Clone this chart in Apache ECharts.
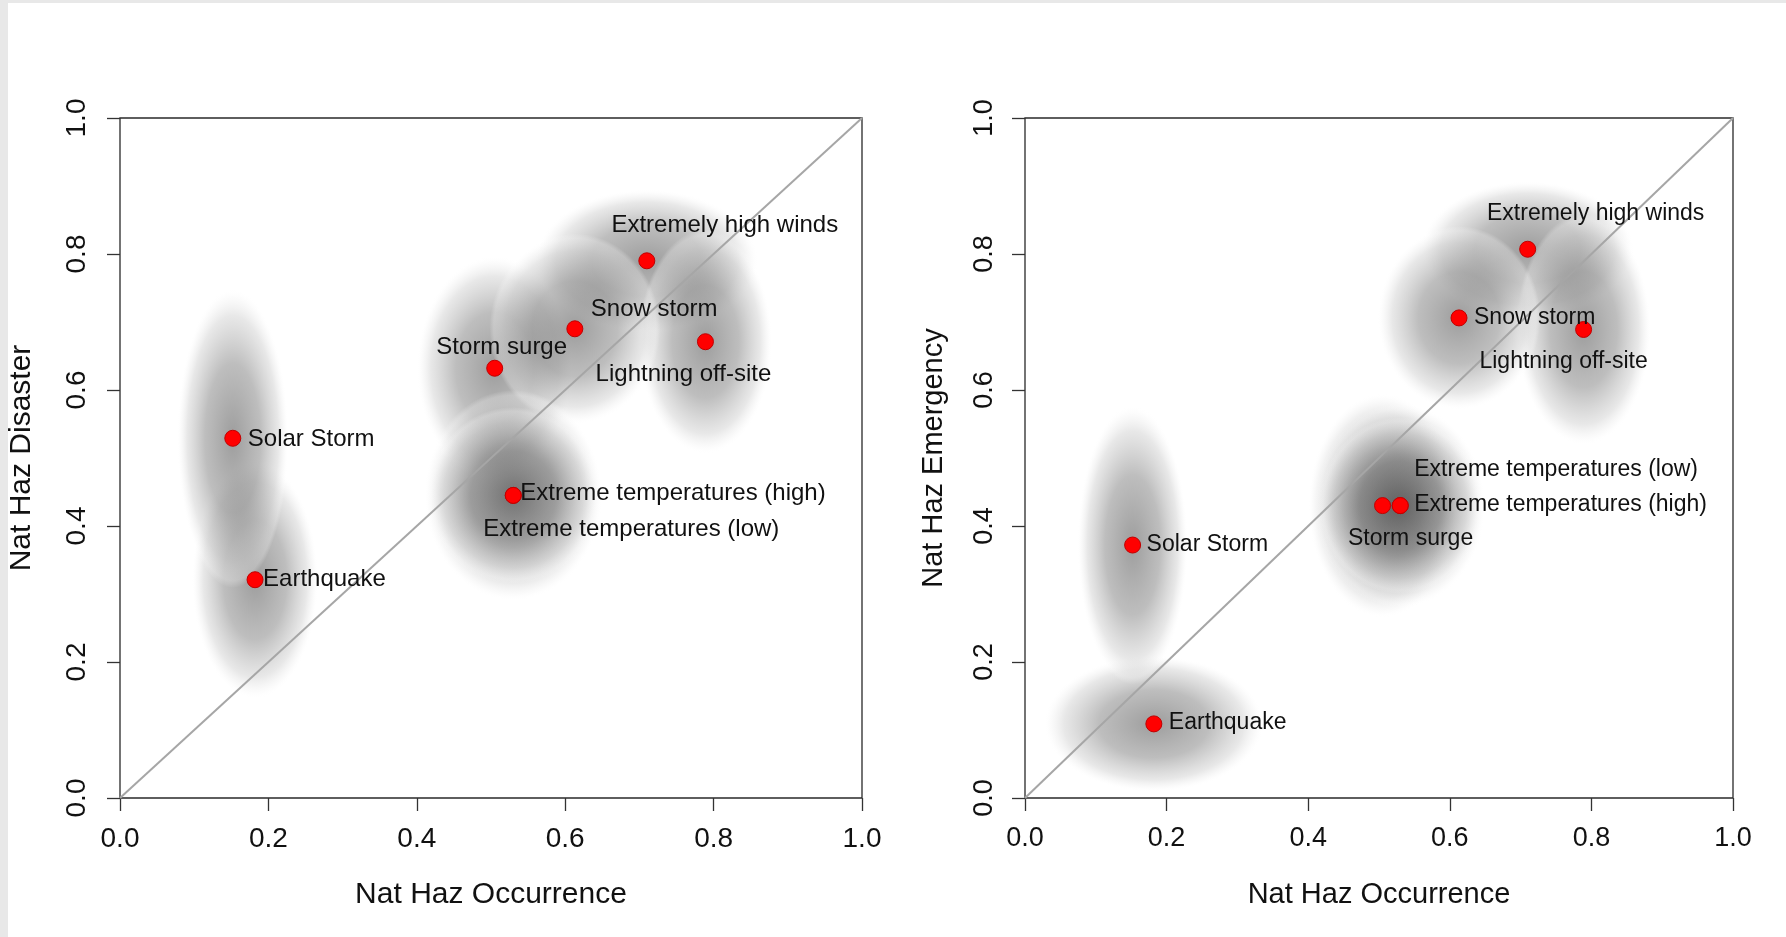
<!DOCTYPE html>
<html>
<head>
<meta charset="utf-8">
<script src="https://cdn.jsdelivr.net/npm/echarts@6/dist/echarts.min.js"></script>
<style>
  html, body { margin: 0; padding: 0; background: #ffffff; }
  #chart { width: 1786px; height: 937px; }
</style>
</head>
<body>
<div id="chart"></div>
<script>
// Natural hazards: occurrence vs. disaster / emergency scores
const hazards = [
  'Extremely high winds', 'Snow storm', 'Storm surge', 'Lightning off-site',
  'Solar Storm', 'Extreme temperatures (high)', 'Extreme temperatures (low)', 'Earthquake'
];
const occurrence = [0.71, 0.613, 0.505, 0.789, 0.152, 0.53, 0.53, 0.182];
const disaster   = [0.79, 0.69, 0.632, 0.671, 0.529, 0.445, 0.445, 0.321];
const emergency  = [0.807, 0.706, 0.43, 0.689, 0.372, 0.43, 0.43, 0.109];

// spread of each hazard's rating (semi-axes of the shaded clouds)
const disasterSpreadX  = [0.15, 0.115, 0.105, 0.09, 0.075, 0.115, 0.12, 0.085];
const disasterSpreadY  = [0.105, 0.14, 0.165, 0.165, 0.22, 0.13, 0.155, 0.175];
const emergencySpreadX = [0.15, 0.115, 0.105, 0.095, 0.078, 0.115, 0.12, 0.155];
const emergencySpreadY = [0.1, 0.135, 0.165, 0.17, 0.205, 0.13, 0.15, 0.1];

const axisTicks = [0, 0.2, 0.4, 0.6, 0.8, 1.0];
const diagonal = [[0, 0], [1, 1]];

// order in which the clouds are painted (later ones sit on top)
const cloudOrder = [7, 4, 0, 2, 3, 1, 6, 5];

// label placement around each point: alignment and pixel offset from the dot centre
const disasterLabels = {
  'Extremely high winds':        ['center', 78, -35],
  'Snow storm':                  ['left', 16, -19],
  'Storm surge':                 ['center', 7, -21],
  'Lightning off-site':          ['center', -22, 33],
  'Solar Storm':                 ['left', 15, 1],
  'Extreme temperatures (high)': ['left', 7, -2],
  'Extreme temperatures (low)':  ['left', -30, 34],
  'Earthquake':                  ['left', 8, 0]
};
const emergencyLabels = {
  'Extremely high winds':        ['center', 68, -36],
  'Snow storm':                  ['left', 15, 0],
  'Storm surge':                 ['center', 28, 33],
  'Lightning off-site':          ['center', -20, 32],
  'Solar Storm':                 ['left', 14, 0],
  'Extreme temperatures (high)': ['left', 14, -1],
  'Extreme temperatures (low)':  ['left', 14, -36],
  'Earthquake':                  ['left', 15, -1]
};

const FONT = '"Liberation Sans", Arial, sans-serif';

function cloudFill() {
  return {
    type: 'radial', x: 0.5, y: 0.5, r: 0.5,
    colorStops: [
      { offset: 0, color: 'rgba(80,80,80,0.56)' },
      { offset: 0.5, color: 'rgba(125,125,125,0.5)' },
      { offset: 0.82, color: 'rgba(200,200,200,0.42)' },
      { offset: 0.95, color: 'rgba(245,245,245,0.28)' },
      { offset: 1, color: 'rgba(255,255,255,0)' }
    ]
  };
}

function cloudSeries(idx, yVals, sx, sy) {
  return {
    type: 'custom',
    xAxisIndex: idx, yAxisIndex: idx,
    z: 1,
    silent: true,
    clip: true,
    data: cloudOrder.map(i => [occurrence[i], yVals[i], sx[i], sy[i]]),
    renderItem: function (params, api) {
      const c = api.coord([api.value(0), api.value(1)]);
      const s = api.size([api.value(2), api.value(3)]);
      return {
        type: 'circle',
        x: c[0], y: c[1],
        scaleX: s[0] / s[1], scaleY: 1,
        shape: { cx: 0, cy: 0, r: s[1] },
        style: { fill: cloudFill() }
      };
    }
  };
}

function pointSeries(idx, yVals, placement, fontSize) {
  return {
    type: 'scatter',
    xAxisIndex: idx, yAxisIndex: idx,
    z: 5,
    symbol: 'circle',
    symbolSize: 16,
    itemStyle: { color: '#ff0000', borderColor: '#c00000', borderWidth: 1, opacity: 1 },
    data: hazards.map((name, i) => {
      const p = placement[name];
      return {
        name: name,
        value: [occurrence[i], yVals[i]],
        label: {
          show: true,
          formatter: name,
          position: 'inside',
          align: p[0],
          verticalAlign: 'middle',
          offset: [p[1], p[2]],
          color: '#111',
          fontSize: fontSize,
          fontFamily: FONT
        }
      };
    })
  };
}

function diagonalSeries(idx) {
  return {
    type: 'line',
    xAxisIndex: idx, yAxisIndex: idx,
    z: 3,
    silent: true,
    symbol: 'none',
    lineStyle: { color: '#a6a6a6', width: 2 },
    data: diagonal
  };
}

function xAxisFor(idx, tickSize, titleSize, nameGap) {
  return {
    gridIndex: idx,
    type: 'value', min: 0, max: 1, interval: 0.2,
    name: 'Nat Haz Occurrence',
    nameLocation: 'middle', nameGap: nameGap,
    nameTextStyle: { color: '#111', fontSize: titleSize, fontFamily: FONT },
    axisLine: { show: false },
    axisTick: { show: true, inside: false, length: 13, lineStyle: { color: '#333', width: 1.3 } },
    splitLine: { show: false },
    axisLabel: {
      margin: 27, color: '#111', fontSize: tickSize, fontFamily: FONT,
      formatter: v => axisTicks.some(t => Math.abs(t - v) < 1e-9) ? v.toFixed(1) : ''
    }
  };
}

function yAxisFor(idx, title, tickSize, titleSize, nameGap, labelMargin) {
  return {
    gridIndex: idx,
    type: 'value', min: 0, max: 1, interval: 0.2,
    name: title,
    nameLocation: 'middle', nameGap: nameGap, nameRotate: 90,
    nameTextStyle: { color: '#111', fontSize: titleSize, fontFamily: FONT },
    axisLine: { show: false },
    axisTick: { show: true, inside: false, length: 13, lineStyle: { color: '#333', width: 1.3 } },
    splitLine: { show: false },
    axisLabel: {
      rotate: 90, margin: labelMargin, color: '#111', fontSize: tickSize, fontFamily: FONT,
      formatter: v => axisTicks.some(t => Math.abs(t - v) < 1e-9) ? v.toFixed(1) : ''
    }
  };
}

const chart = echarts.init(document.getElementById('chart'), null, { renderer: 'canvas' });

chart.setOption({
  backgroundColor: '#ffffff',
  animation: false,
  graphic: [
    { type: 'rect', left: 0, top: 0, shape: { width: 8, height: 937 }, style: { fill: '#e8e8e8' }, silent: true },
    { type: 'rect', left: 0, top: 0, shape: { width: 1786, height: 3 }, style: { fill: '#e8e8e8' }, silent: true }
  ],
  grid: [
    { left: 120, top: 118, width: 742, height: 680, show: true, borderColor: '#2a2a2a', borderWidth: 1.3, backgroundColor: 'transparent' },
    { left: 1025, top: 118, width: 708, height: 680, show: true, borderColor: '#2a2a2a', borderWidth: 1.3, backgroundColor: 'transparent' }
  ],
  xAxis: [
    xAxisFor(0, 28, 30, 82),
    xAxisFor(1, 27, 29, 82)
  ],
  yAxis: [
    yAxisFor(0, 'Nat Haz Disaster', 28, 30, 83, 29),
    yAxisFor(1, 'Nat Haz Emergency', 27, 29, 77, 27)
  ],
  series: [
    cloudSeries(0, disaster, disasterSpreadX, disasterSpreadY),
    cloudSeries(1, emergency, emergencySpreadX, emergencySpreadY),
    diagonalSeries(0),
    diagonalSeries(1),
    pointSeries(0, disaster, disasterLabels, 24),
    pointSeries(1, emergency, emergencyLabels, 23)
  ]
});
</script>
</body>
</html>
